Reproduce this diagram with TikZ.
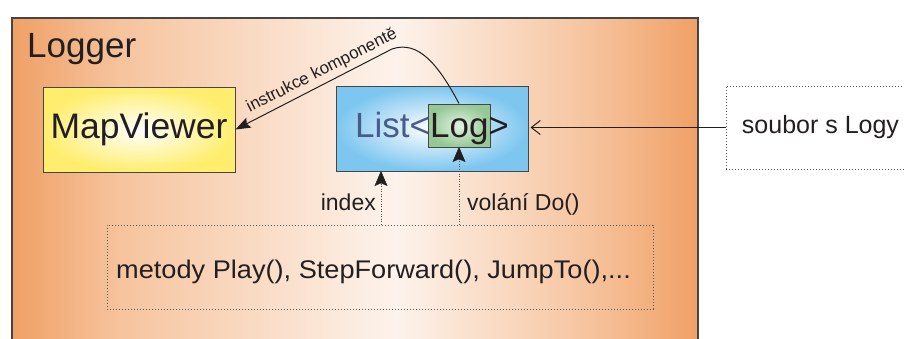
\documentclass[tikz,border=0pt]{standalone}
\usepackage{fontspec}
\setmainfont{Liberation Sans}
\usetikzlibrary{arrows.meta,calc}
\newcommand\pxfont[1]{\fontsize{#1}{#1}\selectfont}
\definecolor{orangeE}{RGB}{240,160,102}
\definecolor{orangeM}{RGB}{246,196,158}
\definecolor{paleC}{RGB}{253,243,236}
\definecolor{yellowE}{RGB}{255,238,110}
\definecolor{blueE}{RGB}{125,198,240}
\definecolor{greenE}{RGB}{150,200,150}
\definecolor{greenC}{RGB}{225,242,225}
\definecolor{listblue}{RGB}{72,92,140}
\definecolor{textdark}{RGB}{35,31,32}
\definecolor{borderC}{RGB}{70,70,70}
\pgfdeclarehorizontalshading{loggershade}{100bp}{color(0bp)=(orangeE); color(25bp)=(orangeE); color(33bp)=(orangeM); color(53bp)=(paleC); color(67bp)=(orangeM); color(75bp)=(orangeE); color(100bp)=(orangeE)}
\tikzset{
  solidbox/.style={draw=borderC, line width=1pt, inner sep=0pt},
  dotbox/.style={draw=gray!70!black, line width=1pt, dash pattern=on 1pt off 2pt, inner sep=0pt},
  dotline/.style={draw=gray!60!black, line width=1pt, dash pattern=on 1pt off 1.5pt},
  tiptri/.style={fill=textdark, draw=textdark, line width=0.5pt, line join=miter},
}
\begin{document}
\begin{tikzpicture}[x=1pt,y=-1pt,text=textdark]
\useasboundingbox (0,0) rectangle (904,338);
\clip (0,0) rectangle (904,338);
% Logger container
\node[draw=borderC, line width=1.5pt, shading=loggershade, minimum width=686pt, minimum height=370pt, inner sep=0pt, anchor=north west] (logger) at (11,17) {};
\node[anchor=base west, inner sep=0pt, font=\pxfont{35}] (loggertitle) at (27,57) {Logger};
% MapViewer
\node[solidbox, inner color=white, outer color=yellowE, minimum width=192pt, minimum height=85pt, font=\pxfont{35.5}] (mapviewer) at (139,129.5) {MapViewer};
% List<Log>
\node[solidbox, inner color=white, outer color=blueE, minimum width=192pt, minimum height=85pt] (listbox) at (432,128.5) {};
\node[solidbox, inner color=greenC, outer color=greenE, minimum width=62pt, minimum height=43pt] (logbox) at (459,125.5) {};
\node[anchor=base west, inner sep=0pt, font=\pxfont{35}] (listtext) at (355,137) {\textcolor{listblue}{List<}Log>};
% curve to MapViewer
\coordinate (peak) at (392,49);
\draw[line width=1pt, draw=textdark, -{Stealth[length=15pt,width=11pt,inset=2.5pt]}] (logbox.north) .. controls (438,64) and (418,40) .. (peak) -- (mapviewer.east);
\node[font=\pxfont{17}, rotate=27, inner sep=0pt] (instr) at (322,71) {instrukce komponentě};
% soubor s Logy
\node[dotbox, minimum width=189pt, minimum height=83pt, font=\pxfont{25}] (soubor) at (820.5,127.5) {soubor s Logy};
\draw[line width=1pt, draw=textdark, -{Straight Barb[length=9pt,width=14pt]}, shorten >=2pt] (soubor.west) -- (listbox.east |- soubor.west);
% methods
\node[dotbox, minimum width=546pt, minimum height=84pt] (methods) at (380,267) {};
\node[anchor=base west, inner sep=0pt, font=\pxfont{25.5}] (methodstext) at (116,278) {\scalebox{1.065}[1]{metody Play(), StepForward(), JumpTo(),...}};
\coordinate (ix) at (381,200);
\coordinate (ixtop) at (listbox.south -| ix);
\coordinate (vtop) at (logbox.south);
\draw[dotline] (methods.north -| ix) -- ($(ixtop)+(0,10)$);
\fill[tiptri] (ixtop) -- ++(-6,14) -- ++(6,-2.5) -- ++(6,2.5) -- cycle;
\draw[dotline] (methods.north -| vtop) -- ($(vtop)+(0,10)$);
\fill[tiptri] (vtop) -- ++(-6,14) -- ++(6,-2.5) -- ++(6,2.5) -- cycle;
\node[anchor=base east, inner sep=0pt, font=\pxfont{23}] (indexlbl) at (376,210) {index};
\node[anchor=base west, inner sep=0pt, font=\pxfont{23}] (volanilbl) at (467,210) {volání Do()};
\end{tikzpicture}
\end{document}
